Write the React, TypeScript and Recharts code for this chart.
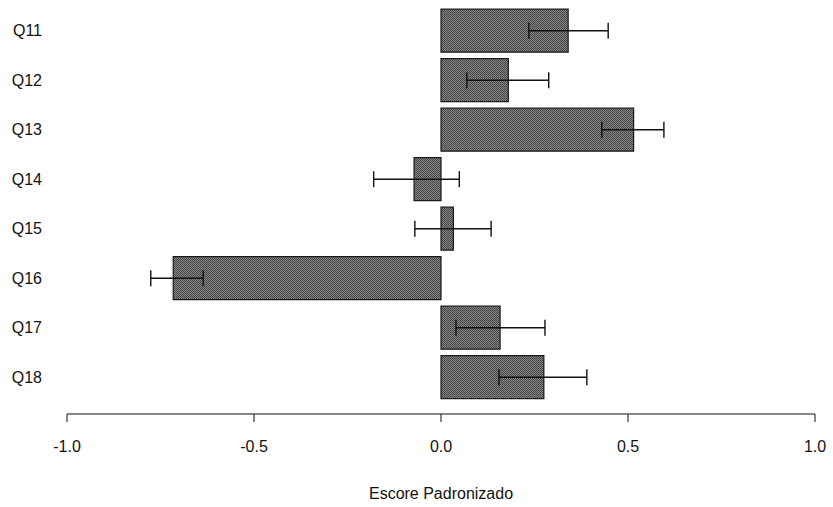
import React from 'react';
import { BarChart, Bar, XAxis, YAxis, ErrorBar } from 'recharts';

const questions = ['Q11', 'Q12', 'Q13', 'Q14', 'Q15', 'Q16', 'Q17', 'Q18'];
const scores = [0.34, 0.18, 0.515, -0.072, 0.033, -0.716, 0.158, 0.275];
const lowerLimits = [0.235, 0.069, 0.43, -0.18, -0.07, -0.776, 0.04, 0.155];
const upperLimits = [0.447, 0.288, 0.596, 0.049, 0.134, -0.636, 0.278, 0.39];
const xTicks = [-1, -0.5, 0, 0.5, 1];

const data = questions.map((q, i) => ({
  name: q,
  score: scores[i],
  err: [scores[i] - lowerLimits[i], upperLimits[i] - scores[i]],
}));

const FONT = '"Liberation Sans", Arial, sans-serif';

export default function App() {
  return (
    <div style={{ position: 'absolute', left: 0, top: 0, background: '#fff' }}>
      <BarChart
        width={833}
        height={507}
        data={data}
        layout="vertical"
        barCategoryGap="6.5%"
        margin={{ top: 6, right: 18, left: 0, bottom: 0 }}
      >
        <defs>
          {/* scanned halftone look */}
          <pattern id="dither" width="2" height="2" patternUnits="userSpaceOnUse">
            <rect width="2" height="2" fill="#858585" />
            <rect width="1" height="1" fill="#404040" />
            <rect x="1" y="1" width="1" height="1" fill="#4c4c4c" />
          </pattern>
        </defs>
        <XAxis
          type="number"
          domain={[-1, 1]}
          ticks={xTicks}
          tickFormatter={(v: number) => v.toFixed(1)}
          height={93}
          stroke="#111"
          tickSize={8}
          tickMargin={19}
          tick={{ fill: '#111', fontSize: 16, fontFamily: FONT }}
          label={{
            value: 'Escore Padronizado',
            position: 'insideBottom',
            offset: 8,
            fill: '#111',
            fontSize: 16,
            fontFamily: FONT,
          }}
        />
        <YAxis
          type="category"
          dataKey="name"
          width={67}
          axisLine={false}
          tickLine={false}
          tickSize={0}
          tickMargin={25}
          padding={{ top: 0, bottom: 12 }}
          tick={{ fill: '#111', fontSize: 16, fontFamily: FONT }}
        />
        <Bar dataKey="score" fill="url(#dither)" stroke="#1a1a1a" strokeWidth={1.2} isAnimationActive={false}>
          <ErrorBar dataKey="err" direction="x" width={8} stroke="#111" strokeWidth={1.4} />
        </Bar>
      </BarChart>
    </div>
  );
}
